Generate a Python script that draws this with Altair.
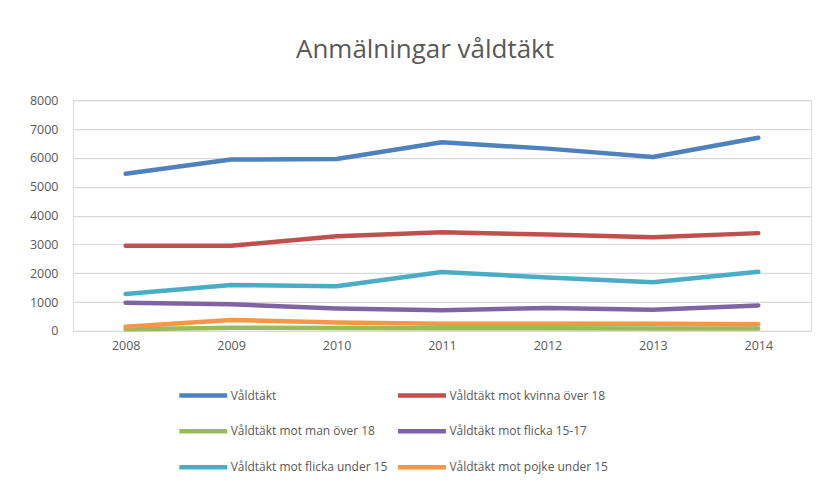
import altair as alt
import pandas as pd

years = ["2008", "2009", "2010", "2011", "2012", "2013", "2014"]
series_names = [
    "Våldtäkt",
    "Våldtäkt mot kvinna över 18",
    "Våldtäkt mot man över 18",
    "Våldtäkt mot flicka 15-17",
    "Våldtäkt mot flicka under 15",
    "Våldtäkt mot pojke under 15",
]
valdtakt = [5450, 5940, 5960, 6540, 6320, 6030, 6700]
kvinna_over_18 = [2950, 2950, 3280, 3420, 3340, 3250, 3390]
man_over_18 = [60, 110, 100, 90, 90, 80, 80]
flicka_15_17 = [980, 920, 780, 720, 790, 730, 880]
flicka_under_15 = [1280, 1590, 1550, 2040, 1850, 1690, 2050]
pojke_under_15 = [140, 380, 290, 250, 250, 250, 230]
colors = ["#4F81BD", "#C0504D", "#9BBB59", "#8064A2", "#4BACC6", "#F79646"]

all_values = [valdtakt, kvinna_over_18, man_over_18, flicka_15_17, flicka_under_15, pojke_under_15]
rows = []
for i, (name, vals) in enumerate(zip(series_names, all_values)):
    for y, v in zip(years, vals):
        rows.append({"År": y, "Serie": name, "Antal": v, "idx": i})
df = pd.DataFrame(rows)

# legend fills column by column: reorder so that it reads row by row (2 columns)
legend_order = [0, 2, 4, 1, 3, 5]
legend_domain = [series_names[i] for i in legend_order]
legend_range = [colors[i] for i in legend_order]

FONT = "Open Sans"
GREY = "#595959"

chart = (
    alt.Chart(df)
    .mark_line(strokeWidth=4.5, strokeCap="round", strokeJoin="round")
    .encode(
        x=alt.X(
            "År:N",
            sort=years,
            scale=alt.Scale(paddingInner=0, paddingOuter=0.5),
            axis=alt.Axis(title=None, labelAngle=0, ticks=False, domain=False,
                          labelPadding=9, grid=False, labelFont=FONT,
                          labelFontSize=12.5, labelColor=GREY),
        ),
        y=alt.Y(
            "Antal:Q",
            scale=alt.Scale(domain=[0, 8000], nice=False),
            axis=alt.Axis(title=None, values=list(range(0, 8001, 1000)), format="d",
                          ticks=False, domain=False, labelPadding=15,
                          gridColor="#D9D9D9", gridWidth=1.2, labelFont=FONT,
                          labelFontSize=12.5, labelColor=GREY),
        ),
        color=alt.Color(
            "Serie:N",
            scale=alt.Scale(domain=legend_domain, range=legend_range),
            legend=alt.Legend(
                title=None, orient="none", legendX=104, legendY=269, columns=2,
                symbolType="stroke", symbolSize=2300, symbolStrokeWidth=4.5,
                labelFont=FONT, labelFontSize=12, labelColor=GREY, rowPadding=0,
                columnPadding=0, labelOffset=1, symbolOffset=0, labelLimit=400,
            ),
        ),
        order=alt.Order("idx:Q"),
    )
    .properties(
        width=739,
        height=231,
        autosize=alt.AutoSizeParams(type="none"),
        padding={"left": 65, "top": 92, "right": 14, "bottom": 150},
        title=alt.TitleParams(
            "Anmälningar våldtäkt", font=FONT, fontSize=26, fontWeight="normal",
            color=GREY, anchor="middle", dx=-17, offset=31,
        ),
    )
    .configure_view(stroke=None)
    .configure(background="white")
)

chart.save("out.html", embed_options={"renderer": "svg", "actions": False})
